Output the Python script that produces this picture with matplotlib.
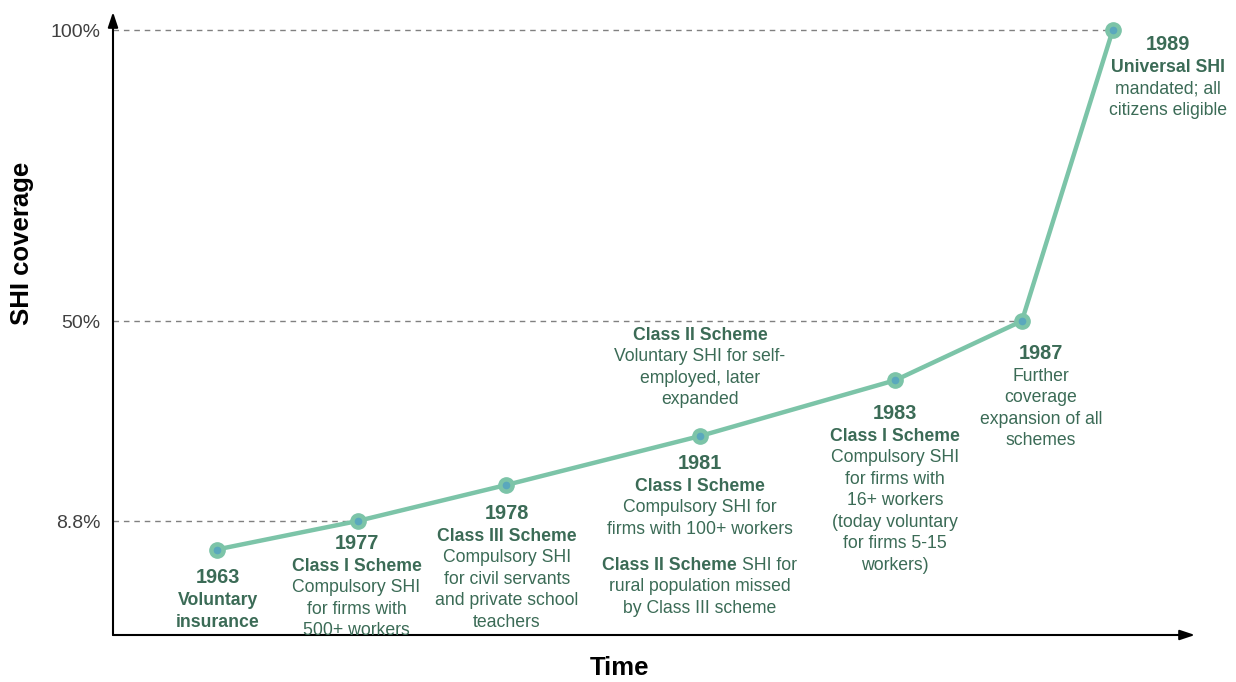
import numpy as np
import matplotlib
matplotlib.use("Agg")
import matplotlib.pyplot as plt

plt.rcParams['font.family'] = ['Liberation Sans', 'DejaVu Sans']

# milestones along the (schematic) time axis
years = ["1963", "1977", "1978", "1981", "1983", "1987", "1989"]
time_pos = [9.6, 22.6, 36.3, 54.25, 72.3, 84.0, 92.4]
coverage = [6.6, 8.8, 16.2, 26.3, 37.8, 50.0, 100.0]

tick_values = [8.8, 50, 100]
tick_labels = ["8.8%", "50%", "100%"]

headings = ["Voluntary\ninsurance", "Class I Scheme", "Class III Scheme",
            "Class I Scheme", "Class I Scheme", "", "Universal SHI"]
details = ["",
           "Compulsory SHI\nfor firms with\n500+ workers",
           "Compulsory SHI\nfor civil servants\nand private school\nteachers",
           "Compulsory SHI for\nfirms with 100+ workers",
           "Compulsory SHI\nfor firms with\n16+ workers\n(today voluntary\nfor firms 5-15\nworkers)",
           "Further\ncoverage\nexpansion of all\nschemes",
           "mandated; all\ncitizens eligible"]

# extra notes around 1981
note_above_head = "Class II Scheme"
note_above_body = "Voluntary SHI for self-\nemployed, later\nexpanded"
note_below_head = "Class II Scheme"
note_below_first = "SHI for"
note_below_rest = "rural population missed\nby Class III scheme"

LINE = "#7cc4a8"
DOT = "#5aa8bd"
TXT = "#3b6b56"
STEP = 21.5

# (dx, dy) pixel offset of each year label from its point
label_off = [(1, -28), (-1, -22), (1, -28), (0, -27), (0, -33), (19, -32), (55, -14)]


def fwd(v):
    return np.interp(v, [0, 8.8, 50, 100, 110], [0, 114, 314, 605, 663.2])


def inv(p):
    return np.interp(p, [0, 114, 314, 605, 663.2], [0, 8.8, 50, 100, 110])


fig = plt.figure(figsize=(12.36, 6.82), dpi=100)
ax = fig.add_axes([113 / 1236, 47 / 682, 1082 / 1236, 623 / 682])
ax.set_yscale('function', functions=(fwd, inv))
ax.set_xlim(0, 100)
ax.set_ylim(0, 103.1)
for s in ax.spines.values():
    s.set_visible(False)
ax.set_xticks([])
ax.set_yticks(tick_values)
ax.set_yticklabels(tick_labels, fontsize=14, color="#404040")
ax.tick_params(axis='y', length=0, pad=9)
ax.minorticks_off()

# axis arrows
arrow = dict(arrowstyle='-|>,head_length=0.9,head_width=0.3', color='black', lw=1.5,
             shrinkA=0, shrinkB=0)
ax.annotate("", xy=(0, 1), xytext=(0, 0), xycoords='axes fraction',
            arrowprops=arrow, annotation_clip=False)
ax.annotate("", xy=(1, 0), xytext=(0, 0), xycoords='axes fraction',
            arrowprops=arrow, annotation_clip=False)

# dashed guides to the labelled levels
for v in tick_values:
    i = coverage.index(v)
    ax.plot([0, time_pos[i]], [v, v], ls=(0, (4, 3.5)), color="#808080", lw=1, zorder=1)

ax.plot(time_pos, coverage, color=LINE, lw=3.2, marker='o', ms=11, zorder=3)
ax.plot(time_pos, coverage, ls='none', marker='o', ms=4.5, color=DOT, zorder=4)


def stack(x, y, dx, dy, lines, weights):
    for k, (t, w) in enumerate(zip(lines, weights)):
        ax.annotate(t, xy=(x, y), xytext=(dx, dy - k * STEP), textcoords='offset pixels',
                    ha='center', va='center', fontsize=12.7, color=TXT, fontweight=w,
                    annotation_clip=False)


for i, yr in enumerate(years):
    x, y = time_pos[i], coverage[i]
    dx, dy = label_off[i]
    ax.annotate(yr, xy=(x, y), xytext=(dx, dy), textcoords='offset pixels',
                ha='center', va='center', fontsize=14.4, fontweight='bold', color=TXT,
                annotation_clip=False)
    lines, weights = [], []
    if headings[i]:
        for t in headings[i].split("\n"):
            lines.append(t)
            weights.append('bold')
    if details[i]:
        for t in details[i].split("\n"):
            lines.append(t)
            weights.append('normal')
    stack(x, y, dx, dy - 23, lines, weights)

# notes around 1981
x81, y81 = time_pos[3], coverage[3]
stack(x81, y81, 0, 101, [note_above_head] + note_above_body.split("\n"),
      ['bold', 'normal', 'normal', 'normal'])
ax.annotate(note_below_head, xy=(x81, y81), xytext=(37, -129), textcoords='offset pixels',
            ha='right', va='center', fontsize=12.7, fontweight='bold', color=TXT)
ax.annotate(note_below_first, xy=(x81, y81), xytext=(42, -129), textcoords='offset pixels',
            ha='left', va='center', fontsize=12.7, color=TXT)
stack(x81, y81, 0, -129 - STEP, note_below_rest.split("\n"), ['normal', 'normal'])

fig.text(22 / 1236, (682 - 243) / 682, "SHI coverage", rotation=90, ha='center', va='center',
         fontsize=18.5, fontweight='bold', color='black')
fig.text(620 / 1236, (682 - 668) / 682, "Time", ha='center', va='center',
         fontsize=18.5, fontweight='bold', color='black')

fig.savefig("out.png", dpi=100)
